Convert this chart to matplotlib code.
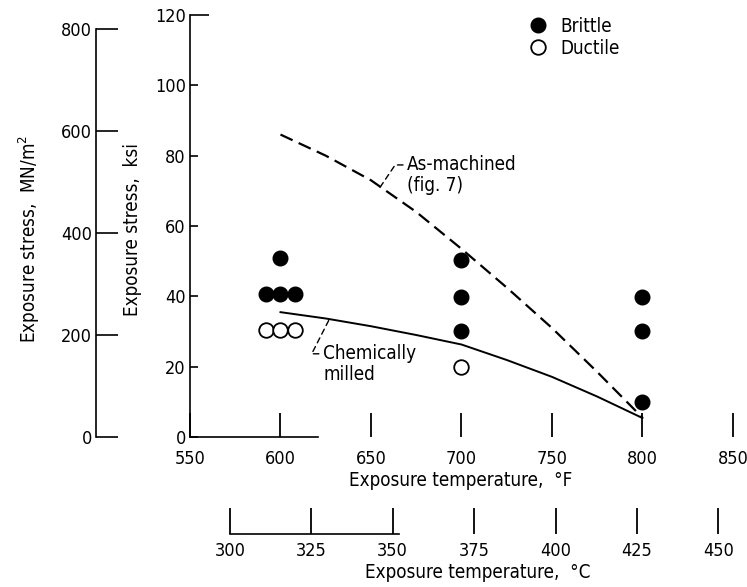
import matplotlib
matplotlib.use('Agg')
import matplotlib.pyplot as plt
from matplotlib.lines import Line2D

# ---------------- data ----------------
brittle_temp_F = [600, 592, 600, 608, 700, 700, 700, 800, 800, 800]
brittle_stress_ksi = [50.8, 40.8, 40.8, 40.8, 50.3, 39.9, 30.1, 39.9, 30.1, 10.0]
ductile_temp_F = [592, 600, 608, 700]
ductile_stress_ksi = [30.4, 30.4, 30.4, 20.0]

curve_temp_F = [600, 625, 650, 675, 700, 725, 750, 775, 800]
as_machined_ksi = [86, 80, 73, 64, 53.5, 42.5, 31, 18.5, 5.5]
chem_milled_ksi = [35.5, 33.7, 31.5, 29, 26.3, 21.9, 17.1, 11.5, 5.4]

F_ticks = [550, 600, 650, 700, 750, 800, 850]
C_ticks = [300, 325, 350, 375, 400, 425, 450]
ksi_ticks = [0, 20, 40, 60, 80, 100, 120]
mpa_ticks = [0, 200, 400, 600, 800]

KSI_TO_MPA = 6.895

def f_to_c(f):
    return (f - 32) / 1.8

# ---------------- style ----------------
plt.rcParams['font.family'] = ['DejaVu Sans']
plt.rcParams['font.stretch'] = 'condensed'
FS = 13.5
TFS = 13

W, H, DPI = 747, 587, 100
fig = plt.figure(figsize=(W / DPI, H / DPI), dpi=DPI)

L, R = 190 / W, 742 / W
B, T = 1 - 437 / H, 1 - 15 / H
XLIM = (550, 855)

# ---------------- main axes (ksi / F) ----------------
ax = fig.add_axes([L, B, R - L, T - B])
ax.set_facecolor('none')
ax.set_xlim(*XLIM)
ax.set_ylim(0, 120)
for s in ('top', 'right'):
    ax.spines[s].set_visible(False)
ax.spines['bottom'].set_bounds(550, 620.7)
ax.spines['left'].set_linewidth(1.2)
ax.spines['bottom'].set_linewidth(1.2)
ax.set_xticks(F_ticks)
ax.set_yticks(ksi_ticks)
ax.tick_params(axis='x', direction='in', length=17, width=1.3, pad=9, labelsize=TFS)
ax.tick_params(axis='y', direction='in', length=6, width=1.2, pad=3, labelsize=TFS)
ax.yaxis.get_major_ticks()[-1].tick1line.set_markersize(14)

ax.plot(curve_temp_F, as_machined_ksi, color='black', lw=1.6,
        linestyle=(0, (6, 3)), clip_on=False)
ax.plot(curve_temp_F, chem_milled_ksi, color='black', lw=1.4, clip_on=False)

ax.plot(brittle_temp_F, brittle_stress_ksi, 'o', color='black', ms=10.5,
        mec='black', mfc='black', clip_on=False)
ax.plot(ductile_temp_F, ductile_stress_ksi, 'o', color='black', ms=10.5,
        mec='black', mfc='white', mew=1.3, clip_on=False)

ax.annotate('As-machined\n(fig. 7)', xy=(655, 71), xytext=(670, 74.5),
            ha='left', va='center', fontsize=FS, linespacing=1.15,
            arrowprops=dict(arrowstyle='-', color='black', lw=1.0,
                            linestyle=(0, (4, 3)), relpos=(0, 0.75),
                            shrinkA=1, shrinkB=0,
                            connectionstyle='angle,angleA=0,angleB=56,rad=0'))
ax.annotate('Chemically\nmilled', xy=(627, 33.5), xytext=(623.5, 20.8),
            ha='left', va='center', fontsize=FS, linespacing=1.15,
            arrowprops=dict(arrowstyle='-', color='black', lw=1.0,
                            linestyle=(0, (4, 3)), relpos=(0, 0.75),
                            shrinkA=1, shrinkB=0,
                            connectionstyle='angle,angleA=0,angleB=63,rad=0'))

handles = [Line2D([], [], marker='o', ls='none', color='black', ms=10.5,
                  mfc='black'),
           Line2D([], [], marker='o', ls='none', color='black', ms=10.5,
                  mfc='white', mew=1.3)]
fig.legend(handles, ['Brittle', 'Ductile'], loc='upper left',
           bbox_to_anchor=(529 / W, 1 - 17 / H), frameon=False,
           fontsize=FS, handlelength=1.0, handletextpad=0.7,
           labelspacing=0.15, borderpad=0, borderaxespad=0)

# ---------------- left axis (MN/m^2) ----------------
axm = fig.add_axes([96 / W, B, 0.0001, T - B])
axm.set_facecolor('none')
axm.set_ylim(0, 120 * KSI_TO_MPA)
for s in ('top', 'right', 'bottom'):
    axm.spines[s].set_visible(False)
axm.spines['left'].set_bounds(0, 800)
axm.spines['left'].set_linewidth(1.2)
axm.set_xticks([])
axm.set_yticks(mpa_ticks)
axm.tick_params(axis='y', direction='in', length=16, width=1.2, pad=3, labelsize=TFS)

# ---------------- bottom axis (C) ----------------
axc = fig.add_axes([L, 1 - 534 / H, R - L, 0.0001])
axc.set_facecolor('none')
axc.set_xlim(f_to_c(XLIM[0]), f_to_c(XLIM[1]))
for s in ('top', 'right', 'left'):
    axc.spines[s].set_visible(False)
axc.spines['bottom'].set_bounds(300, 352)
axc.spines['bottom'].set_linewidth(1.2)
axc.set_yticks([])
axc.set_xticks(C_ticks)
axc.tick_params(axis='x', direction='in', length=19, width=1.3, pad=6, labelsize=TFS)

# ---------------- axis titles ----------------
fig.text(461 / W, 1 - 481 / H, 'Exposure temperature,  °F',
         ha='center', va='center', fontsize=FS)
fig.text(478 / W, 1 - 572 / H, 'Exposure temperature,  °C',
         ha='center', va='center', fontsize=FS)
fig.text(29 / W, 1 - 239 / H, 'Exposure stress,  MN/m$\\mathregular{^2}$',
         ha='center', va='center', rotation=90, fontsize=FS)
fig.text(132 / W, 1 - 229 / H, 'Exposure stress,  ksi',
         ha='center', va='center', rotation=90, fontsize=FS)

fig.savefig('out.png', dpi=DPI)
